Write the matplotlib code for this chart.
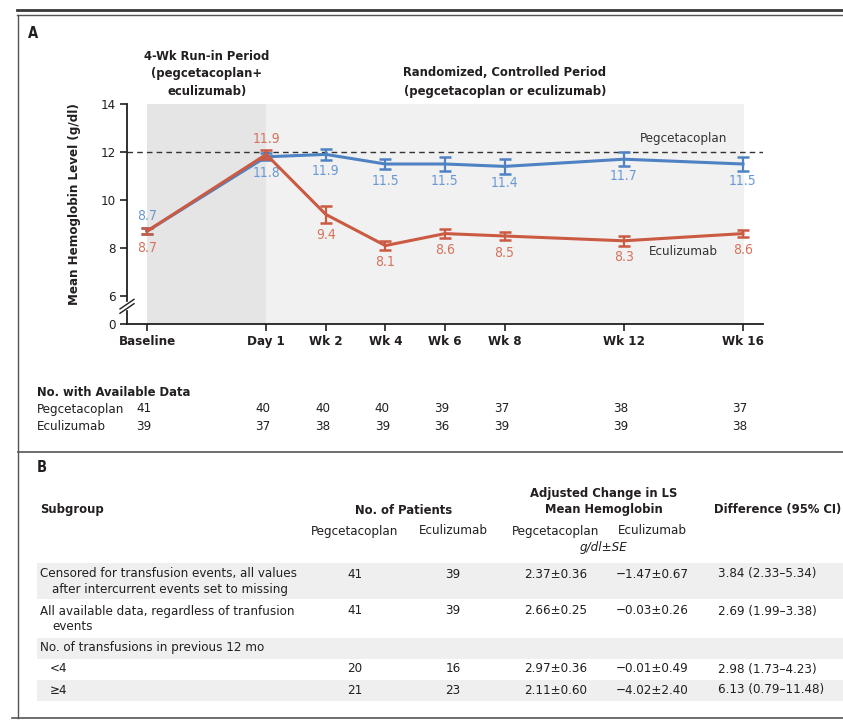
import matplotlib
matplotlib.use("Agg")
import matplotlib.pyplot as plt
from matplotlib.lines import Line2D
from matplotlib.patches import Rectangle
import matplotlib.transforms as mtransforms

plt.rcParams['font.family'] = ['DejaVu Sans']
plt.rcParams['font.stretch'] = 'condensed'

# ---- data, panel A ----
timepoints = ["Baseline", "Day 1", "Wk 2", "Wk 4", "Wk 6", "Wk 8", "Wk 12", "Wk 16"]
weeks = [-4, 0, 2, 4, 6, 8, 12, 16]
peg_mean = [8.7, 11.8, 11.9, 11.5, 11.5, 11.4, 11.7, 11.5]
peg_err = [0.12, 0.15, 0.22, 0.2, 0.3, 0.3, 0.3, 0.3]
ecu_mean = [8.7, 11.9, 9.4, 8.1, 8.6, 8.5, 8.3, 8.6]
ecu_err = [0.12, 0.2, 0.35, 0.18, 0.2, 0.17, 0.2, 0.15]
peg_n = [41, 40, 40, 40, 39, 37, 38, 37]
ecu_n = [39, 37, 38, 39, 36, 39, 39, 38]

# ---- data, panel B ----
subgroup_lines = [
    ["Censored for transfusion events, all values", "after intercurrent events set to missing"],
    ["All available data, regardless of tranfusion", "events"],
    ["No. of transfusions in previous 12 mo"],
    ["<4"],
    ["\u22654"],
]
pts_peg = ["41", "41", "", "20", "21"]
pts_ecu = ["39", "39", "", "16", "23"]
chg_peg = ["2.37\u00b10.36", "2.66\u00b10.25", "", "2.97\u00b10.36", "2.11\u00b10.60"]
chg_ecu = ["\u22121.47\u00b10.67", "\u22120.03\u00b10.26", "", "\u22120.01\u00b10.49", "\u22124.02\u00b12.40"]
diff_ci = ["3.84 (2.33\u20135.34)", "2.69 (1.99\u20133.38)", "", "2.98 (1.73\u20134.23)", "6.13 (0.79\u201311.48)"]

BLUE = '#4F82C3'
BLUE_TXT = '#6A98D6'
RED = '#CB5A42'
RED_TXT = '#D6735C'
DARK = '#231F20'
BODY = 9.5
HEAD = 9.3

W, H = 843, 723
fig = plt.figure(figsize=(W / 100, H / 100), dpi=100)


def fx(px):
    return px / W


def fy(py):
    return 1 - py / H


def ftext(px, py, s, **kw):
    kw.setdefault('color', DARK)
    kw.setdefault('va', 'center')
    kw.setdefault('fontsize', BODY)
    fig.text(fx(px), fy(py), s, **kw)


def fline(x0, y0, x1, y1, **kw):
    fig.add_artist(Line2D([fx(x0), fx(x1)], [fy(y0), fy(y1)], transform=fig.transFigure, **kw))


# frame lines
fline(17, 10, W, 10, color='#3a3a3a', lw=2)
fline(17, 15, W, 15, color='#555555', lw=1)
fline(18, 15, 18, 718, color='#555555', lw=1)
fline(18, 452, W, 452, color='#555555', lw=1.2)
fline(12, 718, W, 718, color='#555555', lw=1.2)

# ---- panel A ----
ftext(28, 33, "A", fontsize=10.5, fontweight='bold')

y0 = 14 - (324 - 104) / 24.0
ax = fig.add_axes([fx(127), fy(324), (763 - 127) / W, (324 - 104) / H])
ax.set_xlim(-4 - 20 / 29.8, 16 + 20 / 29.8)
ax.set_ylim(y0, 14)

ax.axvspan(-4, 0, color='#E5E5E5', lw=0, zorder=0)
ax.axvspan(0, 16.05, color='#F1F1F1', lw=0, zorder=0)
ax.axhline(12, color='#333333', lw=1, ls=(0, (4, 3)), zorder=1)

ax.errorbar(weeks, peg_mean, yerr=peg_err, color=BLUE, lw=2.2, elinewidth=1.6,
            capsize=4, capthick=1.8, zorder=3)
ax.errorbar(weeks, ecu_mean, yerr=ecu_err, color=RED, lw=2.2, elinewidth=1.6,
            capsize=4, capthick=1.8, zorder=4)

for i, (x, v) in enumerate(zip(weeks, peg_mean)):
    dy = 11 if i == 0 else -12
    ax.annotate(f"{v:.1f}", (x, v), xytext=(0, dy), textcoords='offset points',
                ha='center', va='center', fontsize=10, color=BLUE_TXT)
for i, (x, v) in enumerate(zip(weeks, ecu_mean)):
    dy = 11 if i == 1 else -12
    if i == 2:
        dy = -15
    ax.annotate(f"{v:.1f}", (x, v), xytext=(0, dy), textcoords='offset points',
                ha='center', va='center', fontsize=10, color=RED_TXT)

ax.text(14, 12.55, "Pegcetacoplan", ha='center', va='center', fontsize=BODY, color='#333333')
ax.text(14, 7.85, "Eculizumab", ha='center', va='center', fontsize=BODY, color='#333333')

for s in ['top', 'right']:
    ax.spines[s].set_visible(False)
for s in ['left', 'bottom']:
    ax.spines[s].set_linewidth(1.3)
    ax.spines[s].set_color(DARK)

ax.set_xticks(weeks)
ax.set_xticklabels(timepoints, fontsize=9.5, fontweight='bold')
ax.set_yticks([y0, 6, 8, 10, 12, 14])
ax.set_yticklabels(['0', '6', '8', '10', '12', '14'], fontsize=9.5)
ax.tick_params(axis='both', direction='out', length=5, width=1.2, colors=DARK, pad=3)
ax.set_ylabel("Mean Hemoglobin Level (g/dl)", fontsize=9.5, fontweight='bold', color=DARK, va='center')
ax.yaxis.set_label_coords((75 - 127) / 636, (324 - 204) / 220)

# axis break marks
ybt = ax.get_yaxis_transform()
ax.add_patch(Rectangle((-0.012, 5.45), 0.024, 0.3, transform=ybt, color='white', clip_on=False, zorder=5))
for yb in (5.48, 5.66):
    ax.add_artist(Line2D([-0.011, 0.011], [yb - 0.2, yb + 0.2], transform=ybt, color=DARK,
                         lw=1, clip_on=False, zorder=6))

ftext(207, 56, "4-Wk Run-in Period", ha='center', fontsize=HEAD, fontweight='bold')
ftext(207, 74, "(pegcetacoplan+", ha='center', fontsize=HEAD, fontweight='bold')
ftext(207, 92, "eculizumab)", ha='center', fontsize=HEAD, fontweight='bold')
ftext(505, 73, "Randomized, Controlled Period", ha='center', fontsize=HEAD, fontweight='bold')
ftext(505, 92, "(pegcetacoplan or eculizumab)", ha='center', fontsize=HEAD, fontweight='bold')

# numbers with available data
ftext(37, 392, "No. with Available Data", fontsize=HEAD, fontweight='bold')
ftext(37, 409, "Pegcetacoplan")
ftext(37, 427, "Eculizumab")
bt = mtransforms.blended_transform_factory(ax.transData, fig.transFigure)
for x, a, b in zip(weeks, peg_n, ecu_n):
    fig.text(x - 0.1, fy(409), str(a), transform=bt, ha='center', va='center', fontsize=BODY, color=DARK)
    fig.text(x - 0.1, fy(427), str(b), transform=bt, ha='center', va='center', fontsize=BODY, color=DARK)

# ---- panel B ----
ftext(37, 467, "B", fontsize=10.5, fontweight='bold')
ftext(40, 510, "Subgroup", fontsize=HEAD, fontweight='bold')
ftext(404, 510, "No. of Patients", ha='center', fontsize=HEAD, fontweight='bold')
ftext(604, 493, "Adjusted Change in LS", ha='center', fontsize=HEAD, fontweight='bold')
ftext(604, 510, "Mean Hemoglobin", ha='center', fontsize=HEAD, fontweight='bold')
ftext(778, 510, "Difference (95% CI)", ha='center', fontsize=HEAD, fontweight='bold')
ftext(355, 531, "Pegcetacoplan", ha='center')
ftext(453, 531, "Eculizumab", ha='center')
ftext(556, 531, "Pegcetacoplan", ha='center')
ftext(652, 531, "Eculizumab", ha='center')
ftext(604, 548, "g/dl\u00b1SE", ha='center', style='italic')

bands = [(563, 599), (638, 659), (680, 701)]
for top, bot in bands:
    fig.add_artist(Rectangle((fx(37), fy(bot)), 1 - fx(37), (bot - top) / H,
                             transform=fig.transFigure, color='#EFEFEF', lw=0, zorder=0))

row_y = [574, 611, 648, 669, 690]
for i, y in enumerate(row_y):
    lines = subgroup_lines[i]
    indent = 50 if i >= 3 else 40
    ftext(indent, y, lines[0])
    for k, extra in enumerate(lines[1:]):
        ftext(52, y + 16 * (k + 1), extra)
    ftext(355, y, pts_peg[i], ha='center')
    ftext(453, y, pts_ecu[i], ha='center')
    ftext(556, y, chg_peg[i], ha='center')
    ftext(652, y, chg_ecu[i], ha='center')
    ftext(718, y, diff_ci[i], ha='left')

fig.savefig("out.png", dpi=100)
